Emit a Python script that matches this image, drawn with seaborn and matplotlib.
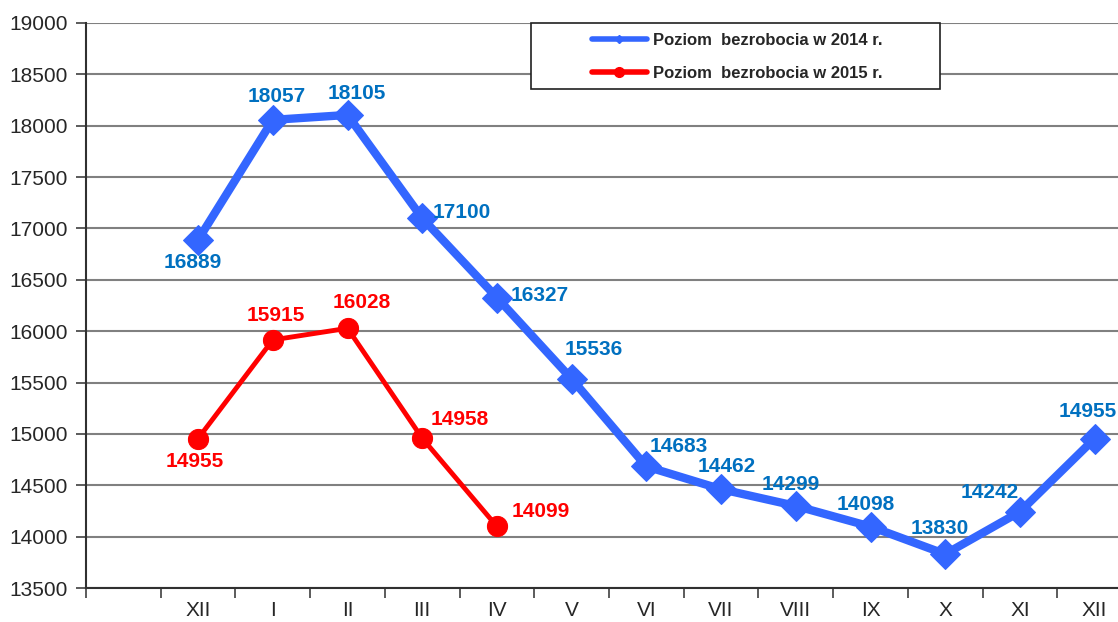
import numpy as np
import pandas as pd
import matplotlib
matplotlib.use('Agg')
import matplotlib.pyplot as plt
from matplotlib.lines import Line2D
from matplotlib.patches import Rectangle
import seaborn as sns

# Data
months = ['', 'XII', 'I', 'II', 'III', 'IV', 'V', 'VI', 'VII', 'VIII', 'IX', 'X', 'XI', 'XII']
values_2014 = [16889, 18057, 18105, 17100, 16327, 15536, 14683, 14462, 14299, 14098, 13830, 14242, 14955]
values_2015 = [14955, 15915, 16028, 14958, 14099]
label_2014 = 'Poziom  bezrobocia w 2014 r.'
label_2015 = 'Poziom  bezrobocia w 2015 r.'

sns.set_theme(style='white')
plt.rcParams['font.family'] = ['Liberation Sans', 'DejaVu Sans']

blue = '#3366FF'
blue_txt = '#0070C0'
red = '#FF0000'

df14 = pd.DataFrame({'pos': np.arange(1, 1 + len(values_2014)), 'val': values_2014})
df15 = pd.DataFrame({'pos': np.arange(1, 1 + len(values_2015)), 'val': values_2015})

fig = plt.figure(figsize=(11.18, 6.22), dpi=100)
ax = fig.add_axes([86 / 1118, 34 / 622, 1046 / 1118, 565 / 622])

sns.lineplot(data=df14, x='pos', y='val', ax=ax, color=blue, linewidth=6,
             marker='D', markersize=15, markeredgecolor=blue, legend=False)
sns.lineplot(data=df15, x='pos', y='val', ax=ax, color=red, linewidth=3.5,
             marker='o', markersize=14.5, markeredgecolor=red, legend=False)

# label offsets (pixels) for each point
off14 = [(-5, -23), (4, 23), (9, 21), (40, 6), (43, 2), (22, 29), (32, 20),
         (6, 23), (-5, 21), (-5, 22), (-5, 26), (-30, 19), (-7, 27)]
off15 = [(-3, -23), (3, 24), (14, 26), (38, 19), (44, 15)]
for (x, y), o in zip(zip(df14['pos'], df14['val']), off14):
    ax.annotate(f'{y}', (x, y), xytext=o, textcoords='offset pixels',
                ha='center', va='center', fontsize=15, fontweight='bold', color=blue_txt)
for (x, y), o in zip(zip(df15['pos'], df15['val']), off15):
    ax.annotate(f'{y}', (x, y), xytext=o, textcoords='offset pixels',
                ha='center', va='center', fontsize=15, fontweight='bold', color=red)

ax.set_xlim(-0.5, len(months) - 0.5)
ax.set_ylim(13500, 19000)
ax.set_yticks(np.arange(13500, 19001, 500))
ax.set_xticks(np.arange(-0.5, len(months), 1))
ax.set_xticklabels([])
ax.set_xticks(np.arange(len(months)), minor=True)
ax.set_xticklabels(months, minor=True)
ax.tick_params(axis='x', which='major', length=7, width=1.2, color='#404040', direction='out', bottom=True)
ax.tick_params(axis='x', which='minor', length=0, labelsize=15, pad=9)
ax.tick_params(axis='y', length=7, width=1.2, color='#404040', direction='out', left=True, labelsize=15, pad=6)
ax.set_xlabel('')
ax.set_ylabel('')

ax.yaxis.grid(True, color='#808080', linewidth=1.5)
ax.xaxis.grid(False)
ax.set_axisbelow(True)
for s in ['top', 'right']:
    ax.spines[s].set_visible(False)
for s in ['left', 'bottom']:
    ax.spines[s].set_color('#303030')
    ax.spines[s].set_linewidth(1.5)

# legend box
ax.add_patch(Rectangle(((531 - 86) / 1046, (588 - 89) / 565), 409 / 1046, 66 / 565,
                       transform=ax.transAxes, facecolor='white', edgecolor='#202020',
                       linewidth=1.2, zorder=5, clip_on=False))
handles = [Line2D([], [], color=blue, linewidth=4, marker='D', markersize=4),
           Line2D([], [], color=red, linewidth=4, marker='o', markersize=7)]
leg = ax.legend(handles, [label_2014, label_2015], loc='center',
                bbox_to_anchor=((737 - 86) / 1046, (588 - 57) / 565),
                prop={'weight': 'bold', 'size': 12}, frameon=False,
                handlelength=3.3, handletextpad=0.35, labelspacing=1.05, borderaxespad=0)
leg.set_zorder(6)

fig.savefig('out.png', dpi=100)
